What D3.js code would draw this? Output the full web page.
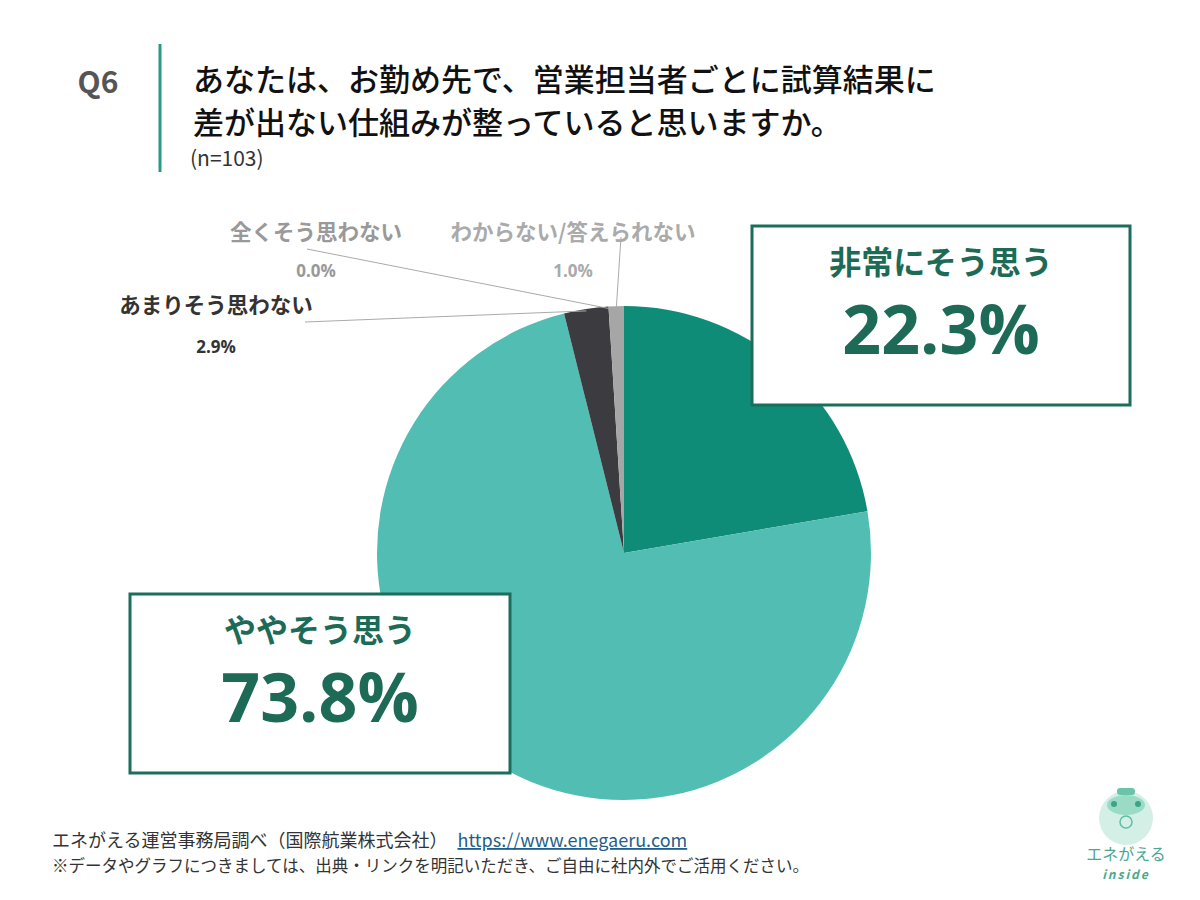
<!DOCTYPE html>
<html>
<head>
<meta charset="utf-8">
<script src="https://cdn.jsdelivr.net/npm/d3@7"></script>
<style>
  body { margin: 0; background: #fff; }
  svg { display: block; font-family: "Noto Sans CJK JP", "Noto Sans", sans-serif; }
</style>
</head>
<body>
<div id="chart"></div>
<script>
// data
const categories = ['非常にそう思う', 'ややそう思う', 'あまりそう思わない', '全くそう思わない', 'わからない/答えられない'];
const values = [22.3, 73.8, 2.9, 0.0, 1.0];
const sliceColors = ['#0f8c77', '#52bdb2', '#3c3b3f', '#8a8a8a', '#a6a6a6'];
const titleLines = ['あなたは、お勤め先で、営業担当者ごとに試算結果に', '差が出ない仕組みが整っていると思いますか。'];

const width = 1200, height = 900;
const cx = 624, cy = 553, radius = 247;

const svg = d3.select('#chart').append('svg')
  .attr('width', width)
  .attr('height', height)
  .attr('viewBox', '0 0 ' + width + ' ' + height);

// header
svg.append('text').attr('x', 98).attr('y', 93).attr('text-anchor', 'middle')
  .attr('font-size', 30).attr('font-weight', 700).attr('fill', '#555')
  .text('Q6');
svg.append('line').attr('x1', 160).attr('x2', 160).attr('y1', 44).attr('y2', 172)
  .attr('stroke', '#2a9a84').attr('stroke-width', 3);
svg.selectAll('.title').data(titleLines).enter().append('text')
  .attr('x', 193).attr('y', (d, i) => 91 + i * 43)
  .attr('font-size', 31).attr('font-weight', 500).attr('fill', '#111')
  .text(d => d);
svg.append('text').attr('x', 190).attr('y', 166)
  .attr('font-size', 21).attr('fill', '#333').text('(n=103)');

// pie
const pie = d3.pie().sort(null).value(d => d)(values);
const arc = d3.arc().innerRadius(0).outerRadius(radius);
const g = svg.append('g').attr('transform', `translate(${cx},${cy})`);
g.selectAll('path').data(pie).enter().append('path')
  .attr('d', arc)
  .attr('fill', (d, i) => sliceColors[i]);

// small-slice labels with leader lines
const small = [
  {idx: 2, lx: 216, ly: 313, px: 216, py: 353, color: '#333', ax: 305, ay: 322},
  {idx: 3, lx: 316, ly: 240, px: 316, py: 277, color: '#999', ax: 307, ay: 249},
  {idx: 4, lx: 573, ly: 240, px: 573, py: 277, color: '#aaa', ax: 621, ay: 237}
];
const edge = d3.arc().innerRadius(radius - 2).outerRadius(radius - 2);
small.forEach(s => {
  const p = pie[s.idx];
  const [ex, ey] = edge.centroid(p);
  svg.append('line')
    .attr('x1', s.ax).attr('y1', s.ay)
    .attr('x2', cx + ex).attr('y2', cy + ey)
    .attr('stroke', '#aaa').attr('stroke-width', 1);
  svg.append('text').attr('x', s.lx).attr('y', s.ly).attr('text-anchor', 'middle')
    .attr('font-size', 21.5).attr('font-weight', 700).attr('fill', s.color)
    .text(categories[s.idx]);
  svg.append('text').attr('x', s.px).attr('y', s.py).attr('text-anchor', 'middle')
    .attr('font-size', 17).attr('font-weight', 700).attr('fill', s.color)
    .attr('font-family', '"Open Sans", sans-serif')
    .text(d3.format('.1f')(values[s.idx]) + '%');
});

// big callout boxes
const boxes = [
  {idx: 0, x: 752, y: 226, w: 378, h: 179},
  {idx: 1, x: 130, y: 594, w: 380, h: 179}
];
boxes.forEach(b => {
  svg.append('rect').attr('x', b.x).attr('y', b.y).attr('width', b.w).attr('height', b.h)
    .attr('fill', '#fff').attr('stroke', '#1b6e5b').attr('stroke-width', 3);
  svg.append('text').attr('x', b.x + b.w / 2).attr('y', b.y + 48).attr('text-anchor', 'middle')
    .attr('font-size', 32).attr('font-weight', 700).attr('fill', '#1d6b56')
    .text(categories[b.idx]);
  svg.append('text').attr('x', b.x + b.w / 2).attr('y', b.y + 128).attr('text-anchor', 'middle')
    .attr('font-size', 68).attr('font-weight', 700).attr('fill', '#1d6b56')
    .attr('font-family', '"Open Sans", sans-serif')
    .text(d3.format('.1f')(values[b.idx]) + '%');
});

// footer
const foot = svg.append('text').attr('x', 52).attr('y', 847).attr('font-size', 18).attr('fill', '#333');
foot.append('tspan').text('エネがえる運営事務局調べ（国際航業株式会社）');
foot.append('tspan').attr('dx', 10).attr('fill', '#1f5f8b').attr('text-decoration', 'underline')
  .text('https://www.enegaeru.com');
svg.append('text').attr('x', 52).attr('y', 872).attr('font-size', 16.5).attr('fill', '#333')
  .text('※データやグラフにつきましては、出典・リンクを明記いただき、ご自由に社内外でご活用ください。');

// logo
const logo = svg.append('g').attr('transform', 'translate(1126,818)');
logo.append('circle').attr('r', 27).attr('fill', '#d4efe6');
logo.append('ellipse').attr('cy', -13).attr('rx', 19).attr('ry', 10).attr('fill', '#9bdac4');
logo.append('rect').attr('x', -9).attr('y', -30).attr('width', 18).attr('height', 7).attr('rx', 3).attr('fill', '#6cc4a8');
logo.append('circle').attr('cx', -12).attr('cy', -14).attr('r', 3).attr('fill', '#3aa487');
logo.append('circle').attr('cx', 12).attr('cy', -14).attr('r', 3).attr('fill', '#3aa487');
logo.append('circle').attr('cy', 4).attr('r', 6).attr('fill', 'none').attr('stroke', '#5dbfa3').attr('stroke-width', 1.5);
logo.append('text').attr('y', 42).attr('text-anchor', 'middle').attr('font-size', 16).attr('fill', '#4aa88f').text('エネがえる');
logo.append('text').attr('y', 61).attr('text-anchor', 'middle').attr('font-size', 12).attr('font-style', 'italic')
  .attr('font-weight', 700).attr('fill', '#4aa88f').attr('letter-spacing', 2).text('inside');
</script>
</body>
</html>
